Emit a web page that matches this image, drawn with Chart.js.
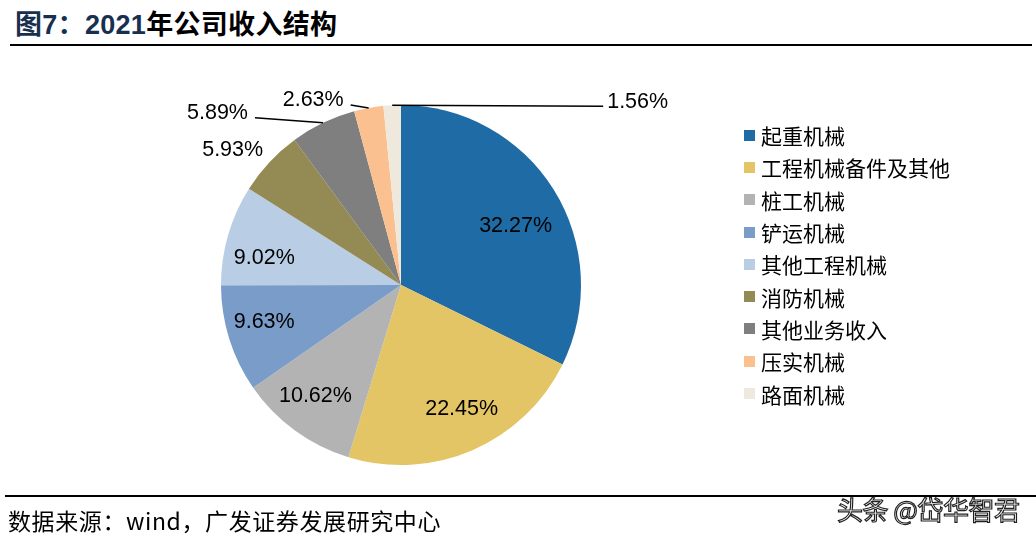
<!DOCTYPE html>
<html><head><meta charset="utf-8">
<script src="https://cdn.jsdelivr.net/npm/chart.js@4/dist/chart.umd.min.js"></script>
<style>
html,body{margin:0;padding:0;background:#fff;width:1036px;height:539px;overflow:hidden;position:relative;font-family:"Liberation Sans","Noto Sans CJK SC",sans-serif;}
#title{position:absolute;left:15px;top:3px;font-size:27px;font-weight:bold;color:#000;font-family:"Liberation Sans","Noto Sans CJK SC",sans-serif;letter-spacing:0.3px;}
#title .n{color:#17304f;}
#tline{position:absolute;left:10px;top:44px;width:1022px;height:2px;background:#000;}
#bline{position:absolute;left:5px;top:495px;width:1031px;height:2px;background:#000;}
#src{position:absolute;left:8px;top:503px;font-size:23px;color:#000;font-family:"Noto Sans CJK SC",sans-serif;letter-spacing:0.6px;}
#wm{position:absolute;left:837px;top:490px;font-size:26px;color:#fff;font-family:"Noto Sans CJK SC",sans-serif;-webkit-text-stroke:1.2px #222;letter-spacing:-0.5px;}
#wrap{position:absolute;left:0;top:0;width:1036px;height:539px;}
#legend{position:absolute;left:744px;top:119px;}
.li{height:32.3px;display:flex;align-items:center;font-family:"Noto Sans CJK SC",sans-serif;font-size:21px;color:#000;}
.sw{width:11px;height:11px;margin-right:6px;flex:none;}
</style></head>
<body>
<div id="title"><span class="n">图7：2021</span>年公司收入结构</div>
<div id="tline"></div>
<div id="wrap"><canvas id="c"></canvas></div>
<div id="legend"></div>
<div id="bline"></div>
<div id="src">数据来源：wind，广发证券发展研究中心</div>
<div id="wm">头条 @岱华智君</div>
<script>
const categories = ["起重机械","工程机械备件及其他","桩工机械","铲运机械","其他工程机械","消防机械","其他业务收入","压实机械","路面机械"];
const shares = [32.27,22.45,10.62,9.63,9.02,5.93,5.89,2.63,1.56];
const colors = ["#1f6ba5","#e3c565","#b3b3b3","#7a9cc8","#b9cde5","#948a54","#7f7f7f","#fac090","#efe9dd"];
// label style: inside (fraction of radius) or outside with label offset from slice edge
const labelModes = ["in","in","in","in","in","out","lead","lead","lead"];
const labelOffsets = [[0,12],[7,0],[-6,2],[-8,-3],[-7,11],[-9,14],[-68,-5],[-18,-3],[211,1]];

const lg = document.getElementById('legend');
categories.forEach((c,i)=>{
  const d=document.createElement('div');d.className='li';
  d.innerHTML='<span class="sw" style="background:'+colors[i]+'"></span><span>'+c+'</span>';
  lg.appendChild(d);
});

const labelPlugin = {
  id:'pieLabels',
  afterDatasetsDraw(chart){
    const ctx = chart.ctx;
    const meta = chart.getDatasetMeta(0);
    ctx.save();
    ctx.font = '21.5px "Liberation Sans", Arial, sans-serif';
    ctx.fillStyle = '#000';
    ctx.textBaseline = 'middle';
    meta.data.forEach((arc,i)=>{
      const {x,y,startAngle,endAngle,outerRadius} = arc.getProps(['x','y','startAngle','endAngle','outerRadius'],true);
      const mid = (startAngle+endAngle)/2;
      const txt = shares[i].toFixed(2)+'%';
      const off = labelOffsets[i];
      if(labelModes[i]==='in'){
        const r = outerRadius*0.75;
        ctx.textAlign='center';
        ctx.fillText(txt, x+Math.cos(mid)*r+off[0], y+Math.sin(mid)*r+off[1]);
      } else if(labelModes[i]==='out'){
        const r = outerRadius+38;
        ctx.textAlign='center';
        ctx.fillText(txt, x+Math.cos(mid)*r+off[0], y+Math.sin(mid)*r+off[1]);
      } else {
        const ex = x+Math.cos(mid)*outerRadius, ey = y+Math.sin(mid)*outerRadius;
        const lx = ex+off[0], ly = ey+off[1];
        ctx.strokeStyle='#000';ctx.lineWidth=1.5;
        ctx.beginPath();ctx.moveTo(ex,ey);ctx.lineTo(lx,ly);ctx.stroke();
        if(off[0]>0){ctx.textAlign='left';ctx.fillText(txt,lx+4,ly-4);}
        else {ctx.textAlign='right';ctx.fillText(txt,lx-7,ly-5);}
      }
    });
    ctx.restore();
  }
};

new Chart(document.getElementById('c'),{
  type:'pie',
  data:{labels:categories,datasets:[{data:shares,backgroundColor:colors,borderWidth:0}]},
  options:{
    responsive:true,maintainAspectRatio:false,animation:false,
    layout:{padding:{left:221,right:455,top:105,bottom:74}},
    plugins:{legend:{display:false},tooltip:{enabled:false}}
  },
  plugins:[labelPlugin]
});
</script>
</body></html>
